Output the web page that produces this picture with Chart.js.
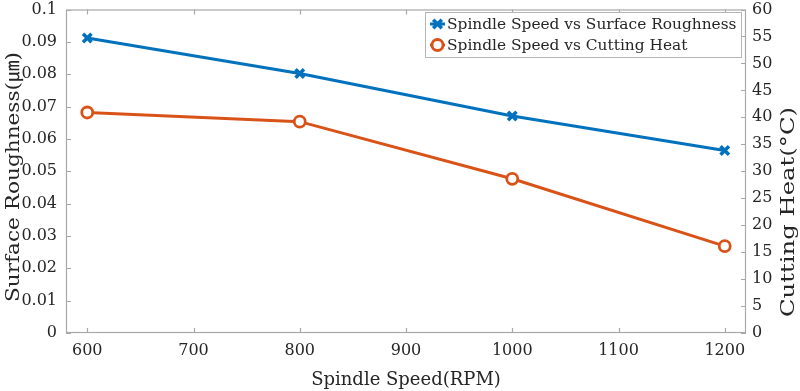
<!DOCTYPE html>
<html><head><meta charset="utf-8">
<script src="https://cdn.jsdelivr.net/npm/chart.js@4.4.0/dist/chart.umd.min.js"></script>
<style>html,body{margin:0;padding:0;background:#fff}#wrap{width:800px;height:391px}</style>
</head><body><div id="wrap"><canvas id="c" width="800" height="391"></canvas></div>
<script>
const speeds = [600, 800, 1000, 1200];
const roughness = [0.0912, 0.0802, 0.0671, 0.0564];
const heat = [40.9, 39.2, 28.6, 16.1];
const xTicks = [600, 700, 800, 900, 1000, 1100, 1200];
const yLeftTicks = [0, 0.01, 0.02, 0.03, 0.04, 0.05, 0.06, 0.07, 0.08, 0.09, 0.1];
const yRightTicks = [0, 5, 10, 15, 20, 25, 30, 35, 40, 45, 50, 55, 60];
const seriesLabels = ['Spindle Speed vs Surface Roughness', 'Spindle Speed vs Cutting Heat'];
const xTitle = 'Spindle Speed(RPM)';
const yLeftTitle = 'Surface Roughness(\u339B)';
const yRightTitle = 'Cutting Heat(\u00B0C)';

const BLUE = '#0072BD', ORANGE = '#D95319', AXIS = '#a8a8a8', TXT = '#262626';
const FONT = '"DejaVu Serif", "Noto Sans CJK KR", serif';

function setTicks(arr){ return function(scale){ scale.ticks = arr.map(v => ({value: v})); }; }
function fitTo(dim, size){ return function(s){ s[dim] = size; s.paddingTop = 0; s.paddingBottom = 0; s.paddingLeft = 0; s.paddingRight = 0; }; }

const framePlugin = {
  id: 'frame',
  afterDatasetsDraw(chart){
    const ctx = chart.ctx, a = chart.chartArea;
    const sx = chart.scales.x, yl = chart.scales.yL, yr = chart.scales.yR;
    ctx.save();
    ctx.strokeStyle = AXIS; ctx.lineWidth = 1.2;
    ctx.strokeRect(a.left + 0.5, a.top + 0.5, a.right - a.left - 1, a.bottom - a.top - 1);
    const L = 5;
    ctx.beginPath();
    sx.ticks.forEach(t => { const p = Math.round(sx.getPixelForValue(t.value)) + 0.5;
      ctx.moveTo(p, a.bottom); ctx.lineTo(p, a.bottom - L);
      ctx.moveTo(p, a.top); ctx.lineTo(p, a.top + L); });
    yl.ticks.forEach(t => { const p = Math.round(yl.getPixelForValue(t.value)) + 0.5;
      ctx.moveTo(a.left, p); ctx.lineTo(a.left + L, p); });
    yr.ticks.forEach(t => { const p = Math.round(yr.getPixelForValue(t.value)) + 0.5;
      ctx.moveTo(a.right, p); ctx.lineTo(a.right - L, p); });
    ctx.stroke();

    // axis titles
    ctx.fillStyle = TXT; ctx.textAlign = 'center'; ctx.textBaseline = 'middle';
    ctx.font = '18px ' + FONT;
    ctx.fillText(xTitle, (a.left + a.right) / 2, 380);
    ctx.save(); ctx.translate(14, 177); ctx.rotate(-Math.PI / 2); ctx.scale(1.2, 1);
    ctx.fillText(yLeftTitle, 0, 0); ctx.restore();
    ctx.save(); ctx.translate(789, 212); ctx.rotate(-Math.PI / 2); ctx.scale(1.35, 1);
    ctx.fillText(yRightTitle, 0, 0); ctx.restore();

    // legend
    const bx = 425, by = 12, bw = 316, bh = 45;
    ctx.fillStyle = '#fff'; ctx.fillRect(bx, by, bw, bh);
    ctx.strokeStyle = '#b5b5b5'; ctx.lineWidth = 1; ctx.strokeRect(bx + 0.5, by + 0.5, bw, bh);
    ctx.font = '15.4px ' + FONT; ctx.textAlign = 'left';
    chart.data.datasets.forEach((ds, i) => {
      const cy = by + 12 + i * 21;
      const mx = bx + 12.5;
      ctx.strokeStyle = ds.borderColor; ctx.lineWidth = 3;
      ctx.beginPath(); ctx.moveTo(bx + 5, cy); ctx.lineTo(bx + 20, cy); ctx.stroke();
      ctx.fillStyle = ds.pointBackgroundColor; ctx.strokeStyle = ds.borderColor; ctx.lineWidth = ds.pointBorderWidth;
      ctx.beginPath();
      if (ds.pointStyle === 'circle') { ctx.arc(mx, cy, ds.pointRadius, 0, Math.PI * 2); ctx.fill(); ctx.stroke(); }
      else { const r = ds.pointRadius * 0.72; ctx.moveTo(mx-r, cy-r); ctx.lineTo(mx+r, cy+r); ctx.moveTo(mx+r, cy-r); ctx.lineTo(mx-r, cy+r); ctx.stroke(); }
      ctx.fillStyle = TXT; ctx.fillText(ds.label, bx + 22, cy + 1);
    });
    ctx.restore();
  }
};

new Chart(document.getElementById('c'), {
  type: 'line',
  data: {
    datasets: [
      { label: seriesLabels[0], data: speeds.map((s, i) => ({x: s, y: roughness[i]})), yAxisID: 'yL',
        borderColor: BLUE, backgroundColor: BLUE, borderWidth: 3, pointStyle: 'crossRot', pointRadius: 6,
        pointBorderWidth: 3.5, pointBackgroundColor: BLUE, pointBorderColor: BLUE, tension: 0 },
      { label: seriesLabels[1], data: speeds.map((s, i) => ({x: s, y: heat[i]})), yAxisID: 'yR',
        borderColor: ORANGE, backgroundColor: ORANGE, borderWidth: 3, pointStyle: 'circle', pointRadius: 5.5,
        pointBorderWidth: 2.8, pointBackgroundColor: '#fff', pointBorderColor: ORANGE, tension: 0 }
    ]
  },
  options: {
    responsive: false, animation: false, devicePixelRatio: 1,
    layout: { padding: { top: 5, left: 0, right: 0, bottom: 0 } },
    plugins: { legend: { display: false }, tooltip: { enabled: false } },
    scales: {
      x: { type: 'linear', position: 'bottom', min: 580, max: 1220,
        afterBuildTicks: setTicks(xTicks), afterFit: fitTo('height', 58),
        grid: { display: false, drawTicks: false }, border: { display: false },
        ticks: { padding: 8, color: TXT, font: { family: FONT, size: 16 }, maxRotation: 0, autoSkip: false,
          callback: v => String(v) } },
      yL: { type: 'linear', position: 'left', min: 0, max: 0.1,
        afterBuildTicks: setTicks(yLeftTicks), afterFit: fitTo('width', 66),
        grid: { display: false, drawTicks: false }, border: { display: false },
        ticks: { padding: 9, color: TXT, font: { family: FONT, size: 16 }, autoSkip: false,
          callback: v => String(+v.toFixed(2)) } },
      yR: { type: 'linear', position: 'right', min: 0, max: 60,
        afterBuildTicks: setTicks(yRightTicks), afterFit: fitTo('width', 54),
        grid: { display: false, drawTicks: false }, border: { display: false },
        ticks: { padding: 6, color: TXT, font: { family: FONT, size: 16 }, autoSkip: false } }
    }
  },
  plugins: [framePlugin]
});
</script></body></html>
